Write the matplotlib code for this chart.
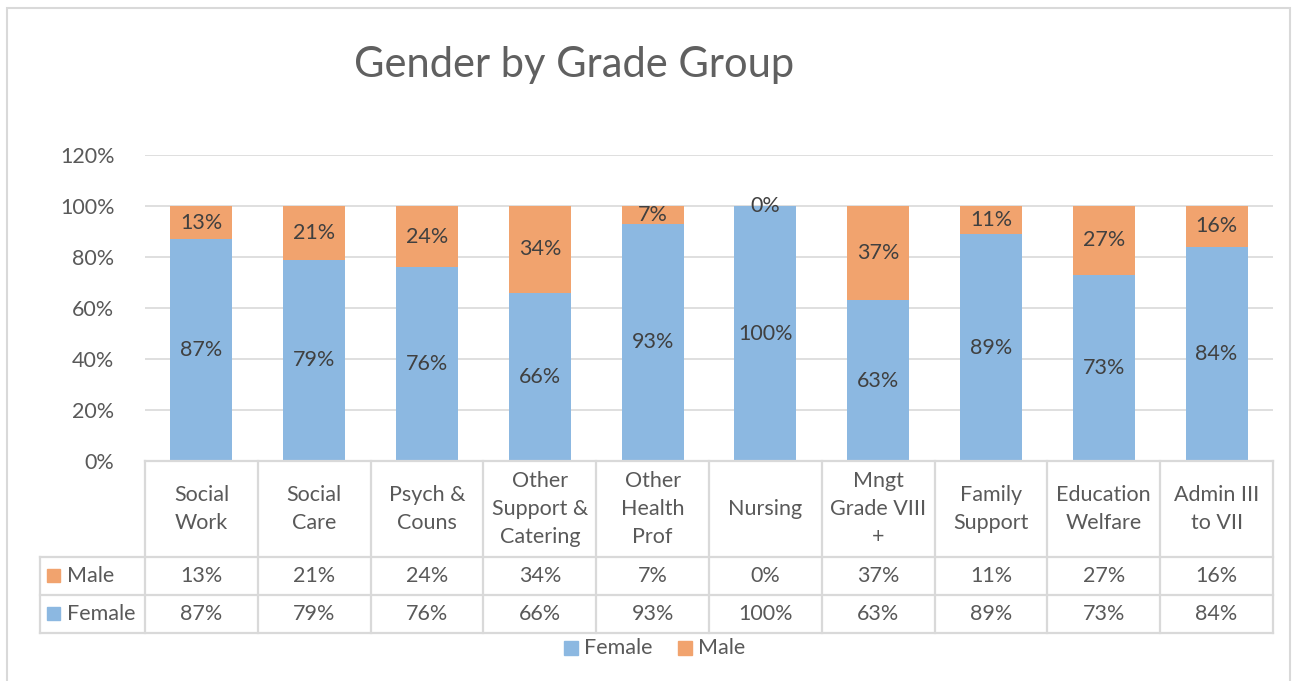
import matplotlib
matplotlib.use("Agg")
import matplotlib.pyplot as plt
from matplotlib.patches import Rectangle
from matplotlib.lines import Line2D
import numpy as np

plt.rcParams['font.family'] = ['Lato', 'DejaVu Sans']

categories = ["Social\nWork", "Social\nCare", "Psych &\nCouns", "Other\nSupport &\nCatering",
              "Other\nHealth\nProf", "Nursing", "Mngt\nGrade VIII\n+", "Family\nSupport",
              "Education\nWelfare", "Admin III\nto VII"]
female = [87, 79, 76, 66, 93, 100, 63, 89, 73, 84]
male = [13, 21, 24, 34, 7, 0, 37, 11, 27, 16]
yticks = [0, 20, 40, 60, 80, 100, 120]

blue = "#8CB8E1"
orange = "#F1A36E"
grid_c = "#D9D9D9"
txt_c = "#404040"
tick_c = "#595959"
fs = 15.5

W, H = 1297, 681
fig = plt.figure(figsize=(W / 100, H / 100), dpi=100)

def fx(px):
    return px / W

def fy(py):
    return 1 - py / H

# plot area (pixel coords of the reference)
x0, x1 = 145, 1273
y_top, y_zero = 155, 461
ax = fig.add_axes([fx(x0), fy(y_zero), fx(x1) - fx(x0), fy(y_top) - fy(y_zero)])
n = len(categories)
x = np.arange(n)
ax.set_xlim(-0.5, n - 0.5)
ax.set_ylim(0, 120)
ax.bar(x, female, width=0.55, color=blue, zorder=3)
ax.bar(x, male, width=0.55, bottom=female, color=orange, zorder=3)
for i in range(n):
    ax.text(x[i], female[i] / 2, "%d%%" % female[i], ha="center", va="center",
            fontsize=fs, color=txt_c, zorder=4)
    ax.text(x[i], female[i] + male[i] / 2, "%d%%" % male[i], ha="center", va="center",
            fontsize=fs, color=txt_c, zorder=4)
ax.set_yticks(yticks)
ax.set_yticklabels(["%d%%" % t for t in yticks], fontsize=fs, color=tick_c)
ax.yaxis.grid(True, color=grid_c, linewidth=1.2, zorder=0)
ax.set_xticks([])
ax.tick_params(axis="y", length=0, pad=22)
for s in ax.spines.values():
    s.set_visible(False)

# data table under the plot
col_w = (x1 - x0) / n
rows_y = [461, 557, 595, 633]
left_x = 40
lw = 1.6

def hline(xa, xb, yy):
    fig.add_artist(Line2D([fx(xa), fx(xb)], [fy(yy), fy(yy)], color=grid_c, lw=lw,
                          transform=fig.transFigure))

def vline(xx, ya, yb):
    fig.add_artist(Line2D([fx(xx), fx(xx)], [fy(ya), fy(yb)], color=grid_c, lw=lw,
                          transform=fig.transFigure))

hline(x0, x1, rows_y[0])
for yy in rows_y[1:]:
    hline(left_x, x1, yy)
for i in range(n + 1):
    vline(x0 + i * col_w, rows_y[0], rows_y[3])
vline(left_x, rows_y[1], rows_y[3])

for i in range(n):
    cx = x0 + (i + 0.5) * col_w
    fig.text(fx(cx), fy((rows_y[0] + rows_y[1]) / 2), categories[i], ha="center", va="center",
             fontsize=fs, color=tick_c, linespacing=1.52)
    fig.text(fx(cx), fy((rows_y[1] + rows_y[2]) / 2), "%d%%" % male[i], ha="center",
             va="center", fontsize=fs, color=tick_c)
    fig.text(fx(cx), fy((rows_y[2] + rows_y[3]) / 2), "%d%%" % female[i], ha="center",
             va="center", fontsize=fs, color=tick_c)

for lab, col, r in [("Male", orange, 1), ("Female", blue, 2)]:
    yc = (rows_y[r] + rows_y[r + 1]) / 2
    fig.add_artist(Rectangle((fx(47), fy(yc + 6)), fx(13), fy(yc - 7) - fy(yc + 6),
                             color=col, transform=fig.transFigure))
    fig.text(fx(67), fy(yc), lab, ha="left", va="center", fontsize=fs, color=tick_c)

# legend
ly = 648
for lab, col, px in [("Female", blue, 564), ("Male", orange, 678)]:
    fig.add_artist(Rectangle((fx(px), fy(ly + 7)), fx(14), fy(ly - 7) - fy(ly + 7),
                             color=col, transform=fig.transFigure))
    fig.text(fx(px + 20), fy(ly), lab, ha="left", va="center", fontsize=fs, color=tick_c)

# title
fig.text(fx(574), fy(65), "Gender by Grade Group", ha="center", va="center",
         fontsize=30, color="#606060")

# chart border
fig.add_artist(Rectangle((fx(7), fy(690)), fx(1290) - fx(7), fy(8) - fy(690), fill=False,
                         edgecolor=grid_c, lw=1.5, transform=fig.transFigure))

fig.savefig("out.png", dpi=100)
